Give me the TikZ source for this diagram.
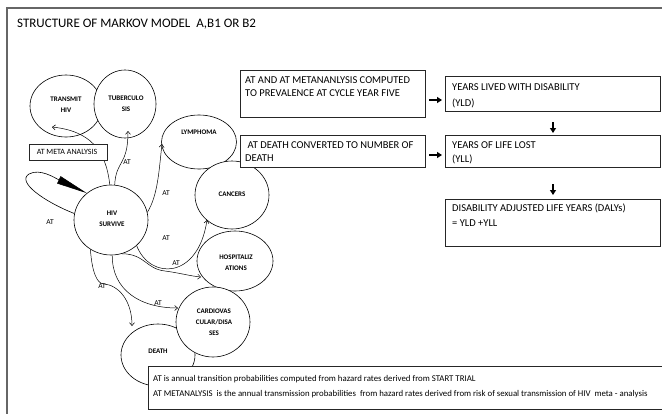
\documentclass[tikz,border=0pt]{standalone}
\usepackage{fontspec}
\setmainfont{Carlito}
\usetikzlibrary{arrows.meta,shapes.geometric}
\begin{document}
\begin{tikzpicture}[x=1pt,y=-1pt,
  circ/.style={ellipse,draw,fill=white,line width=0.6pt,inner sep=0pt},
  clab/.style={font=\fontsize{7}{11}\selectfont\bfseries,align=center,inner sep=0pt},
  atl/.style={font=\fontsize{7.5}{8}\selectfont,inner sep=0pt},
  conn/.style={line width=0.5pt,-{Straight Barb[length=3pt,width=5pt]}},
  box/.style={draw=black!85,fill=white,line width=0.7pt,inner sep=0pt,anchor=north west},
  btxt/.style={font=\fontsize{10.5}{13}\selectfont,align=left,anchor=north west,inner sep=0pt},
  rtxt/.style={font=\fontsize{10.5}{15}\selectfont,align=left,anchor=north west,inner sep=0pt},
  fat/.style={line width=1.2pt,-{Triangle[length=5pt,width=6pt]}}
]
\useasboundingbox (0,0) rectangle (662,413);
% frame
\draw[line width=1.5pt,black!60] (7,420) -- (7,8) -- (670,8);
% title
\node[anchor=west,inner sep=0pt,font=\fontsize{13}{15}\selectfont] (title) at (17,24) {STRUCTURE OF MARKOV MODEL\ \ A,B1 OR B2};

% circles
\node[circ,minimum width=72pt,minimum height=62pt] (transmit) at (66,106) {};
\node[clab] (transmitT) at (66,105) {TRANSMIT\\HIV};
\node[circ,minimum width=62pt,minimum height=68pt] (tb) at (125,104) {};
\node[clab] (tbT) at (126,104) {TUBERCULO\\SIS};
\node[circ,minimum width=75pt,minimum height=54pt] (lymph) at (199,142) {};
\node[clab] (lymphT) at (199,132) {LYMPHOMA};
\node[circ,minimum width=74pt,minimum height=68pt] (cancers) at (232,195) {};
\node[clab] (cancersT) at (232,194) {CANCERS};
\node[circ,minimum width=76pt,minimum height=60pt] (hosp) at (235,261) {};
\node[clab] (hospT) at (236,263) {HOSPITALIZ\\ATIONS};
\node[circ,minimum width=74pt,minimum height=62pt] (death) at (158,355) {};
\node[clab] (deathT) at (158,351) {DEATH};
\node[circ,minimum width=74pt,minimum height=70pt] (cardio) at (213,322) {};
\node[clab] (cardioT) at (214,322) {CARDIOVAS\\CULAR/DISA\\SES};
\node[circ,minimum width=74pt,minimum height=70pt] (hiv) at (111,220) {};
\node[clab] (hivT) at (112,219) {HIV\\SURVIVE};

% tip coordinates
\coordinate (tTip) at (52,127);
\coordinate (tbTip) at (128,131);
\coordinate (lyTip) at (162,144);
\coordinate (caTip) at (207,220);
\coordinate (hoTip) at (201,277);
\coordinate (cvTip) at (178,308);
\coordinate (deTip) at (132,326);

% connectors
\draw[conn] (hiv.92) .. controls (106,150) and (90,131) .. (tTip);
\draw[conn] (hiv.84) .. controls (116,160) and (128,166) .. (tbTip);
\draw[conn] (hiv.12) .. controls (158,195) and (159,170) .. (lyTip);
\draw[conn] (hiv.-45) .. controls (150,280) and (198,280) .. (caTip);
\draw[conn] (hiv.-72) .. controls (145,254) and (146,269) .. (165,271) .. controls (180,273) and (190,276) .. (hoTip);
\draw[conn] (hiv.-88) .. controls (112,290) and (140,308) .. (cvTip);
\draw[conn] (hiv.-125) .. controls (92,272) and (97,284) .. (104,284) .. controls (118,285) and (132,300) .. (deTip);
% self loop
\draw[line width=0.6pt,-{Triangle[length=31pt,width=8pt]}] (hiv.170) .. controls (45,202) and (16,182) .. (29,174) .. controls (40,168) and (55,178) .. (hiv.132);

% AT labels
\node[atl] (at1) at (50,222) {AT};
\node[atl] (at2) at (127,162) {AT};
\node[atl] (at3) at (166,193) {AT};
\node[atl] (at4) at (166,238) {AT};
\node[atl] (at5) at (176,263) {AT};
\node[atl] (at6) at (158,303) {AT};
\node[atl] (at7) at (102,286) {AT};

% meta analysis box
\node[box,minimum width=78pt,minimum height=16pt] (meta) at (29,144) {};
\node[inner sep=0pt,font=\fontsize{8}{9}\selectfont] (metaT) at (67,152) {AT META ANALYSIS};

% left text boxes
\node[box,minimum width=185pt,minimum height=47pt] (box1) at (240,70) {};
\node[btxt] (box1T) at (245,76.6) {AT AND AT METANANLYSIS COMPUTED\\TO PREVALENCE AT CYCLE YEAR FIVE};
\node[box,minimum width=185pt,minimum height=32pt] (box2) at (240,135) {};
\node[btxt] (box2T) at (245,141.6) {\hspace{2.5pt}AT DEATH CONVERTED TO NUMBER OF\\DEATH};

% right boxes
\node[box,minimum width=215pt,minimum height=35pt] (yld) at (445,76) {};
\node[rtxt,font=\fontsize{10.5}{16}\selectfont] (yldT) at (452,83.6) {YEARS LIVED WITH DISABILITY\\(YLD)};
\node[box,minimum width=215pt,minimum height=32pt] (yll) at (445,135) {};
\node[rtxt,font=\fontsize{10.5}{14}\selectfont] (yllT) at (452,141.6) {YEARS OF LIFE LOST\\(YLL)};
\node[box,minimum width=215pt,minimum height=47pt] (daly) at (445,199) {};
\node[rtxt] (dalyT) at (452,203.6) {DISABILITY ADJUSTED LIFE YEARS (DALYs)\\= YLD +YLL};

% fat arrows
\coordinate (a1s) at (429,100); \coordinate (a1e) at (442,100);
\coordinate (a2s) at (429,155); \coordinate (a2e) at (442,155);
\coordinate (a3s) at (553,122); \coordinate (a3e) at (553,133);
\coordinate (a4s) at (553,184); \coordinate (a4e) at (553,195);
\draw[fat] (a1s) -- (a1e);
\draw[fat] (a2s) -- (a2e);
\draw[fat] (a3s) -- (a3e);
\draw[fat] (a4s) -- (a4e);

% legend
\node[box,minimum width=530pt,minimum height=43pt] (legend) at (148,366) {};
\node[anchor=north west,inner sep=0pt,align=left,font=\fontsize{8.8}{15}\selectfont] (legendT) at (153,375) {AT is annual transition probabilities computed from hazard rates derived from START TRIAL\\AT METANALYSIS\ \ is the annual transmission probabilities\ \ from hazard rates derived from risk of sexual transmission of HIV\ \ meta - analysis};
\end{tikzpicture}
\end{document}
